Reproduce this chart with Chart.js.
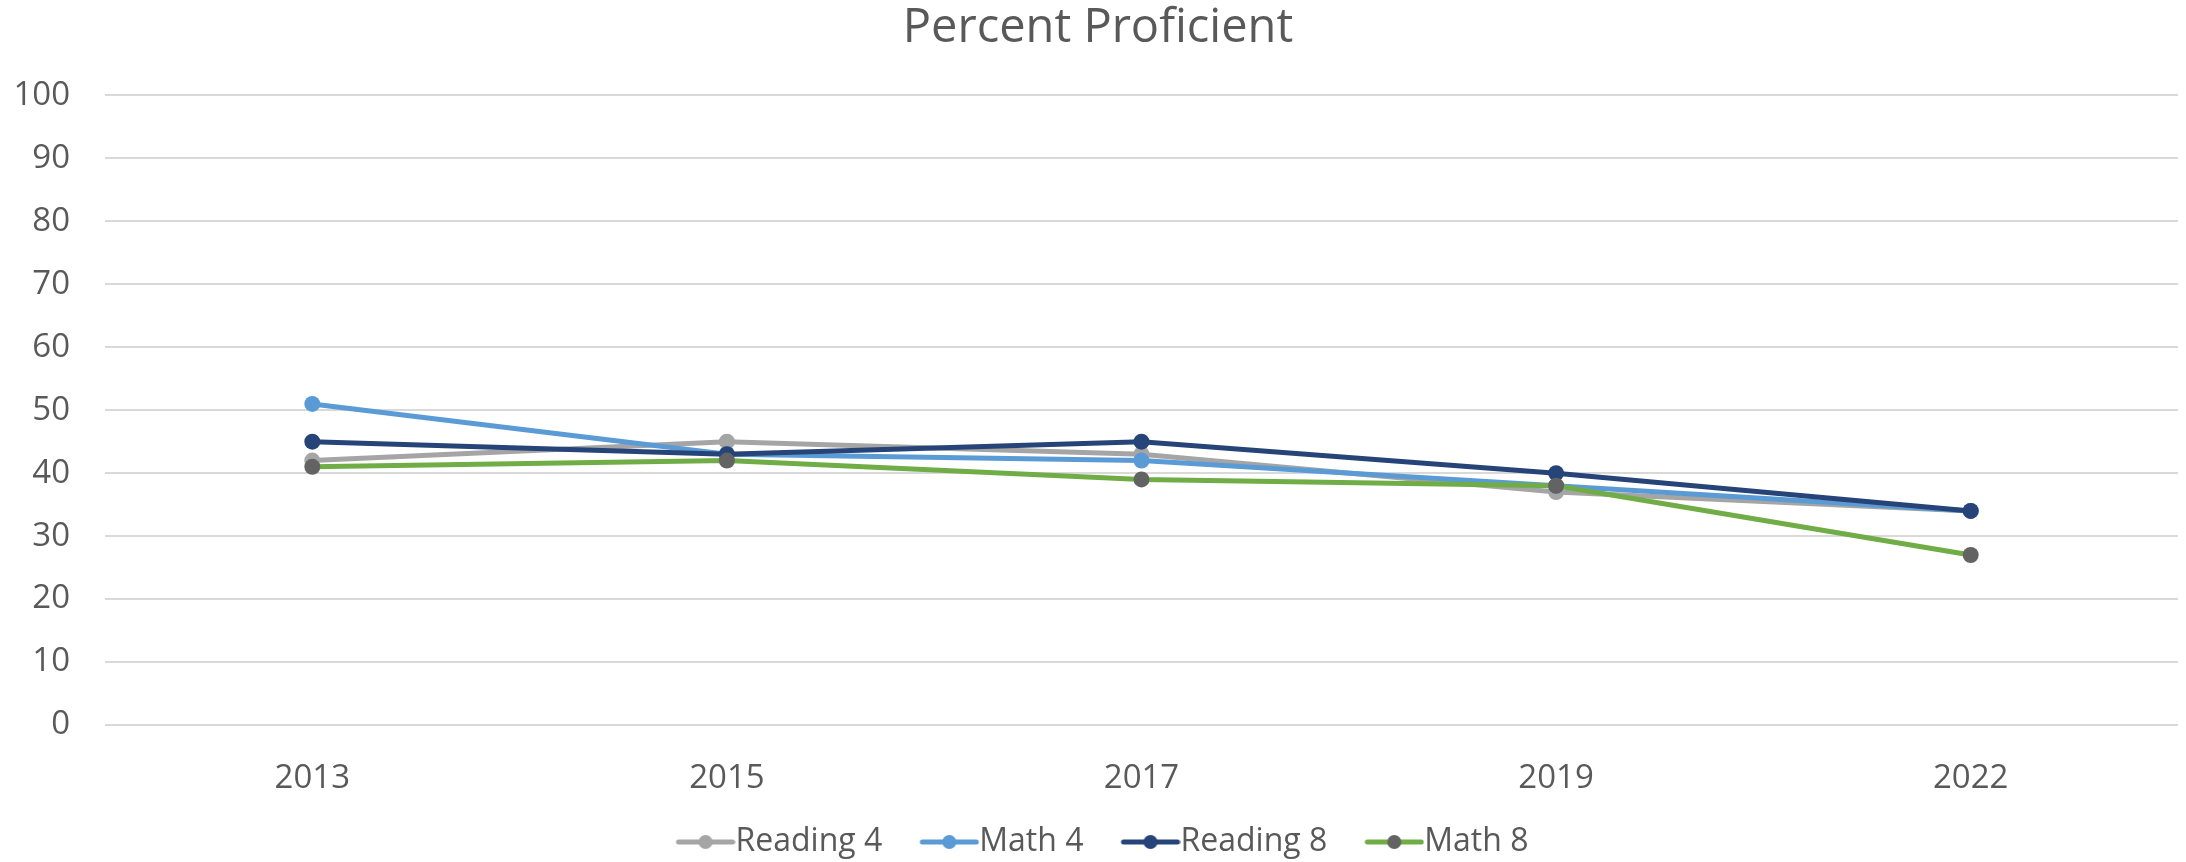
<!DOCTYPE html>
<html>
<head>
<meta charset="utf-8">
<script src="https://cdn.jsdelivr.net/npm/chart.js@4/dist/chart.umd.min.js"></script>
<style>
  html, body { margin: 0; padding: 0; background: #ffffff; }
  #contenedor { width: 2186px; height: 862px; position: relative; }
</style>
</head>
<body>
<div id="contenedor"><canvas id="grafico"></canvas></div>
<script>
// Datos
const anios = ['2013', '2015', '2017', '2019', '2022'];
const lectura4 = [42, 45, 43, 37, 34];
const mate4 = [51, 43, 42, 38, 34];
const lectura8 = [45, 43, 45, 40, 34];
const mate8 = [41, 42, 39, 38, 27];
const nombresSeries = ['Reading 4', 'Math 4', 'Reading 8', 'Math 8'];

const colorTexto = '#595959';
const colorRejilla = '#d9d9d9';

// Colores de línea y de marcador por serie
const coloresLinea = ['#a5a5a5', '#5b9bd5', '#264478', '#70ad47'];
const coloresPunto = ['#a5a5a5', '#5b9bd5', '#264478', '#636363'];

// Icono de leyenda: línea con un punto en medio (estilo Excel).
// La imagen es más ancha que el icono para que quede pegado al texto.
function iconoLeyenda(colorLinea, colorPunto) {
  const c = document.createElement('canvas');
  c.width = 84;
  c.height = 18;
  const ctx = c.getContext('2d');
  ctx.strokeStyle = colorLinea;
  ctx.lineWidth = 5;
  ctx.lineCap = 'round';
  ctx.beginPath();
  ctx.moveTo(27, 9);
  ctx.lineTo(81, 9);
  ctx.stroke();
  ctx.fillStyle = colorPunto;
  ctx.beginPath();
  ctx.arc(54, 9, 7, 0, Math.PI * 2);
  ctx.fill();
  return c;
}
const iconos = coloresLinea.map((c, i) => iconoLeyenda(c, coloresPunto[i]));

const valores = [lectura4, mate4, lectura8, mate8];
const datasets = [];
for (let i = 0; i < valores.length; i++) {
  datasets.push({
    label: nombresSeries[i],
    data: valores[i],
    borderColor: coloresLinea[i],
    backgroundColor: coloresPunto[i],
    pointBackgroundColor: coloresPunto[i],
    pointBorderColor: coloresPunto[i],
    borderWidth: 5,
    pointRadius: 8,
    pointBorderWidth: 0,
    tension: 0,
    order: valores.length - i // la última serie queda encima
  });
}

new Chart(document.getElementById('grafico'), {
  type: 'line',
  data: { labels: anios, datasets: datasets },
  options: {
    responsive: true,
    maintainAspectRatio: false,
    animation: false,
    layout: { padding: { left: 14, right: 4, top: 0, bottom: -6 } },
    plugins: {
      title: {
        display: true,
        text: 'Percent Proficient',
        color: colorTexto,
        font: { family: 'Open Sans', size: 47, weight: 'normal' },
        padding: { top: 0, bottom: 39 }
      },
      legend: {
        position: 'bottom',
        labels: {
          color: colorTexto,
          font: { family: 'Open Sans', size: 32 },
          usePointStyle: true,
          pointStyleWidth: 52,
          padding: 29,
          sort: (a, b) => a.datasetIndex - b.datasetIndex,
          generateLabels: (chart) => {
            const items = Chart.defaults.plugins.legend.labels.generateLabels(chart);
            items.forEach(it => { it.pointStyle = iconos[it.datasetIndex]; });
            return items;
          }
        }
      },
      tooltip: { enabled: false }
    },
    scales: {
      x: {
        offset: true,
        grid: { display: false },
        border: { display: false },
        ticks: { color: colorTexto, font: { family: 'Open Sans', size: 33 }, padding: 26 },
        afterFit: (escala) => { escala.height = 72; }
      },
      y: {
        min: 0,
        max: 100,
        border: { display: false },
        grid: { color: colorRejilla, lineWidth: 2, drawTicks: false },
        ticks: { stepSize: 10, color: colorTexto, font: { family: 'Open Sans', size: 33 }, padding: 35 },
        afterFit: (escala) => { escala.width = 91; }
      }
    }
  }
});
</script>
</body>
</html>
